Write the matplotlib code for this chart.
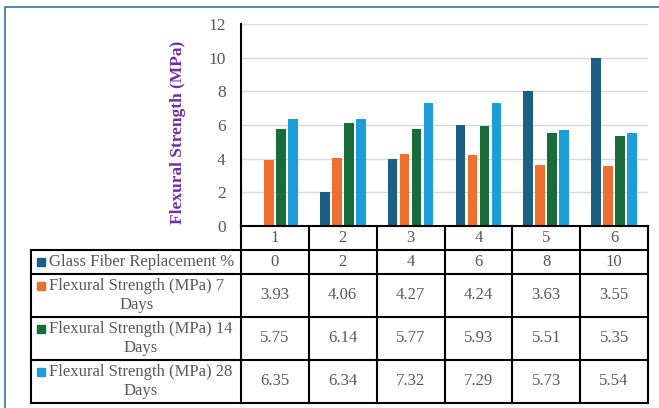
import numpy as np
import matplotlib
matplotlib.use("Agg")
import matplotlib.pyplot as plt
from matplotlib.patches import Rectangle
from matplotlib.lines import Line2D

# ---- data ----
categories = ["1", "2", "3", "4", "5", "6"]
glass_fiber = [0, 2, 4, 6, 8, 10]
flex_7 = [3.93, 4.06, 4.27, 4.24, 3.63, 3.55]
flex_14 = [5.75, 6.14, 5.77, 5.93, 5.51, 5.35]
flex_28 = [6.35, 6.34, 7.32, 7.29, 5.73, 5.54]
series_names = [
    "Glass Fiber Replacement %",
    "Flexural Strength (MPa) 7\nDays",
    "Flexural Strength (MPa) 14\nDays",
    "Flexural Strength (MPa) 28\nDays",
]
series_values = [glass_fiber, flex_7, flex_14, flex_28]
series_text = [
    ["0", "2", "4", "6", "8", "10"],
    ["3.93", "4.06", "4.27", "4.24", "3.63", "3.55"],
    ["5.75", "6.14", "5.77", "5.93", "5.51", "5.35"],
    ["6.35", "6.34", "7.32", "7.29", "5.73", "5.54"],
]
colors = ["#1B5F83", "#ED7031", "#186C39", "#1C9FD8"]

W, H = 659, 408
plt.rcParams["font.family"] = ["Liberation Serif", "DejaVu Serif"]
fig = plt.figure(figsize=(W / 100, H / 100), dpi=100)
fig.patch.set_facecolor("white")

# plot area in pixel coordinates
px_left, px_right, px_top, px_bottom = 241, 648, 24, 226
ax = fig.add_axes([px_left / W, 1 - px_bottom / H,
                   (px_right - px_left) / W, (px_bottom - px_top) / H])

x = np.arange(len(categories))
step, width = 0.177, 0.143
for k, (vals, col) in enumerate(zip(series_values, colors)):
    ax.bar(x + (k - 1.5) * step, vals, width=width, color=col, zorder=3)

ax.set_xlim(-0.5, len(categories) - 0.5)
ax.set_ylim(0, 12)
ax.set_yticks(np.arange(0, 13, 2))
ax.set_xticks([])
ax.yaxis.grid(True, color="#D9D9D9", linewidth=1.0, zorder=0)
for s in ["top", "right", "bottom"]:
    ax.spines[s].set_visible(False)
ax.spines["left"].set_color("black")
ax.spines["left"].set_linewidth(1.5)
ax.tick_params(axis="y", length=0, pad=11, labelsize=12.5, labelcolor="#595959")

# overlay in pixel coordinates for the data table and frame
ov = fig.add_axes([0, 0, 1, 1], facecolor="none")
ov.set_xlim(0, W)
ov.set_ylim(H, 0)
ov.axis("off")

# outer frame
ov.add_line(Line2D([5, 5, W], [H, 7, 7], color="#2E75B6", linewidth=1.2))

# y label
ov.text(178, 132, "Flexural Strength (MPa)", rotation=90, ha="center", va="center",
        fontsize=12.5, fontweight="bold", color="#7030A0")

# table geometry
ncol = len(categories)
col_w = (px_right - px_left) / ncol
col_edges = [px_left + i * col_w for i in range(ncol + 1)]
row_edges = [226, 249.5, 273.5, 317, 360, 402.5]
tab_left = 31
lw = 1.5
tcol = "#595959"
fs = 12

# horizontal lines
ov.add_line(Line2D([px_left, px_right], [row_edges[0]] * 2, color="black", lw=lw))
for yy in row_edges[1:]:
    ov.add_line(Line2D([tab_left, px_right], [yy, yy], color="black", lw=lw))
# vertical lines
ov.add_line(Line2D([tab_left, tab_left], [row_edges[1], row_edges[-1]], color="black", lw=lw))
for xx in col_edges:
    ov.add_line(Line2D([xx, xx], [row_edges[0], row_edges[-1]], color="black", lw=lw))

# category row
for i, c in enumerate(categories):
    ov.text((col_edges[i] + col_edges[i + 1]) / 2, (row_edges[0] + row_edges[1]) / 2, c,
            ha="center", va="center", fontsize=fs, color=tcol)

# series rows
for r, (name, texts, col) in enumerate(zip(series_names, series_text, colors)):
    y0, y1 = row_edges[r + 1], row_edges[r + 2]
    yc = (y0 + y1) / 2
    two_line = "\n" in name
    first_y = y0 + 12 if two_line else yc
    ov.add_patch(Rectangle((37, first_y - 4), 8, 8, color=col))
    ov.text(49, yc, name, ha="left", va="center", multialignment="center",
            fontsize=fs, color=tcol, linespacing=1.25)
    for i, t in enumerate(texts):
        ov.text((col_edges[i] + col_edges[i + 1]) / 2, yc, t,
                ha="center", va="center", fontsize=fs, color=tcol)

fig.savefig("out.png", dpi=100)
